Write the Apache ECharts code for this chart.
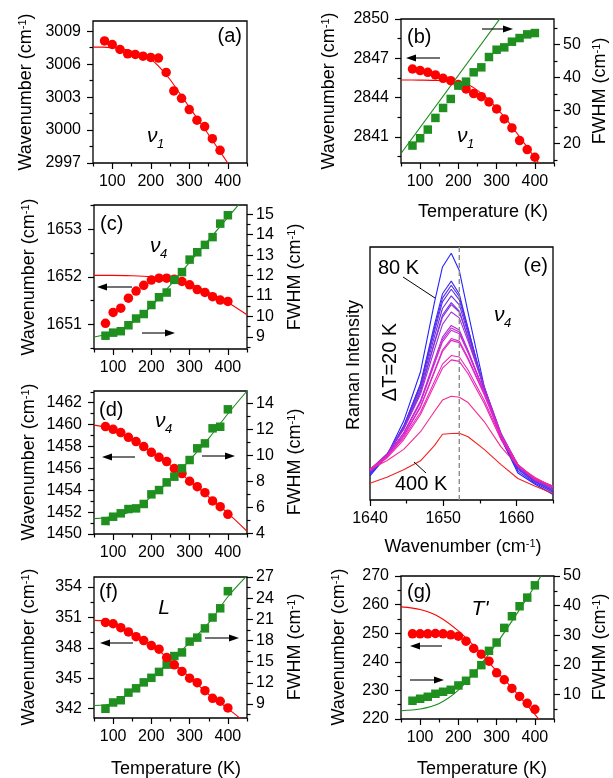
<!DOCTYPE html>
<html><head><meta charset="utf-8">
<script src="https://cdn.jsdelivr.net/npm/echarts@6/dist/echarts.min.js"></script>
<style>html,body{margin:0;padding:0;background:#fff}#c{width:613px;height:778px}</style>
</head><body><div id="c"></div>
<script>
// ---------------- data ----------------
const temps = [80,100,120,140,160,180,200,220,240,260,280,300,320,340,360,380,400];

// (a) nu1 ~3007
const aFreq = [3008.12,3007.79,3007.34,3006.94,3006.88,3006.73,3006.61,3006.55,3005.25,3003.56,3002.89,3001.87,3000.90,3000.32,2999.21,2998.15,2996.94];
const aFitT = [50,75,100,125,150,175,200,225,250,275,300,325,350,375,400,425];
const aFitF = [3007.55,3007.55,3007.5,3007.4,3007.2,3006.9,3006.45,3005.65,3004.6,3003.35,3002.1,3000.85,2999.6,2998.3,2997.0,2995.7];

// (b) nu1 ~2845
const bFreq = [2846.18,2846.06,2845.93,2845.73,2845.47,2845.29,2844.99,2844.66,2844.30,2844.07,2843.66,2843.13,2842.37,2841.68,2840.71,2840.03,2839.44];
const bFitT = [50,100,150,200,225,250,275,300,325,350,375,400,425];
const bFitF = [2845.34,2845.33,2845.3,2845.2,2845.0,2844.55,2843.95,2843.2,2842.35,2841.4,2840.4,2839.4,2838.4];
const bFwhm = [19.39,21.62,24.24,27.78,30.81,33.54,37.58,38.79,41.62,43.13,46.26,48.48,49.19,50.91,52.02,53.13,53.54];
const bFitWT = [50,320];
const bFitW = [16.97,59.7];

// (c) nu4 ~1652
const cFreq = [1651.02,1651.25,1651.34,1651.55,1651.70,1651.82,1651.93,1651.97,1651.97,1651.95,1651.90,1651.83,1651.73,1651.67,1651.58,1651.51,1651.48];
const cFitT = [50,100,150,200,250,300,350,400,450];
const cFitF = [1652.03,1652.03,1652.02,1652.0,1651.96,1651.85,1651.67,1651.46,1651.2];
const cFwhm = [9.06,9.21,9.28,9.57,9.90,10.12,10.56,10.94,11.17,11.79,12.17,12.78,13.14,13.50,13.88,14.54,14.95];
const cFitW = [9.0,9.2,9.7,10.5,11.55,12.65,13.75,14.85,15.95];

// (d) nu4 ~1456
const dFreq = [1459.82,1459.57,1459.27,1458.84,1458.45,1457.99,1457.47,1457.01,1456.62,1455.98,1455.52,1454.82,1454.33,1453.78,1453.02,1452.5,1451.80];
const dFitT = [50,100,150,200,250,300,350,400,450];
const dFitF = [1459.95,1459.6,1458.65,1457.5,1456.3,1454.85,1453.4,1451.9,1450.25];
const dFwhm = [4.95,5.28,5.54,5.87,5.92,6.26,7.0,7.33,7.92,8.36,9.0,9.64,10.54,10.92,12.08,12.2,13.54];
const dFitW = [5.13,5.3,5.72,6.82,8.12,9.64,11.3,13.2,14.95];

// (f) L ~347
const fFreq = [350.5,350.37,349.98,349.56,349.10,348.71,348.22,347.86,347.04,346.32,345.67,345.01,344.56,343.77,343.02,342.73,342.07];
const fFitT = [50,100,150,200,250,300,350,400,450];
const fFitF = [350.7,350.47,349.4,348.3,346.75,345.1,343.4,342.0,340.5];
const fFwhm = [8.31,9.20,9.52,10.6,11.21,12.05,12.70,13.54,14.57,15.79,16.30,17.84,18.40,19.71,21.25,22.56,24.99];
const fFitW = [8.78,9.1,10.85,12.7,15.1,17.7,20.48,24.2,27.2];

// (g) T' ~240
const gFreq = [249.77,249.77,249.77,249.9,249.77,249.42,248.95,247.2,244.65,242.67,240.23,236.16,233.72,230.7,227.9,225.47,223.37];
const gFitT = [50,100,150,200,250,300,350,400,425];
const gFitF = [259.19,258.26,255.7,250.8,244.3,236.7,229.4,221.6,217.5];
const gFwhm = [7.87,8.54,9.21,10.22,10.9,11.57,13.03,14.61,17.08,19.89,24.72,27.53,32.47,36.4,39.78,42.7,46.85];
const gFitW = [4.5,5.06,6.97,11.46,18.76,27.2,36.7,46.6,52.0];

// (e) spectra of nu4 mode, 80 K ... 400 K (arbitrary intensity 0..100)
const specX = [1640,1642.3,1644.6,1646.9,1648.8,1649.9,1651.1,1652.2,1653.4,1655.6,1657.9,1660.2,1662.5,1665];
const specT = [80,100,120,140,160,180,200,220,240,260,280,300,320,340,360,380,400];
const spec80  = [9.5,17.5,31.2,50.7,78.0,92.1,97.5,90.7,74.1,44.9,24.4,10.7,6.3,2.2];
const spec100 = [10.2,17.1,29.1,46.0,69.2,81.5,86.5,81.4,67.8,43.3,24.2,11.4,6.7,3.0];
const spec120 = [10.8,17.6,29.2,45.7,67.9,79.8,84.9,80.4,67.6,44.1,25.0,12.1,7.2,3.5];
const spec140 = [11.0,17.6,29.0,45.1,66.6,78.3,83.3,79.1,66.8,44.1,25.2,12.4,7.3,3.7];
const spec160 = [11.3,17.8,28.7,44.1,64.6,75.7,80.7,77.1,65.7,44.4,25.6,12.9,7.6,4.1];
const spec180 = [11.3,17.6,28.1,42.9,62.4,73.1,78.0,74.7,64.0,43.7,25.4,12.9,7.6,4.2];
const spec200 = [11.9,18.1,28.4,42.9,61.8,72.3,77.2,74.3,64.2,44.8,26.2,13.6,8.0,4.6];
const spec220 = [12.1,18.1,27.9,41.8,59.4,69.4,74.3,72.0,62.7,44.6,26.4,13.9,8.2,4.9];
const spec240 = [11.9,17.4,26.5,39.2,55.2,64.4,69.0,67.2,59.1,42.8,25.5,13.7,8.1,5.0];
const spec260 = [12.0,17.4,26.4,38.8,54.4,63.4,68.0,66.4,58.6,42.8,25.7,13.8,8.2,5.1];
const spec280 = [12.1,17.5,26.3,38.5,53.7,62.5,67.1,65.7,58.2,42.9,25.8,14.0,8.3,5.3];
const spec300 = [12.1,17.2,25.5,37.0,51.0,59.3,63.8,62.8,56.1,42.1,25.5,14.0,8.3,5.4];
const spec320 = [12.0,17.0,25.2,36.6,50.5,58.7,63.1,62.2,55.5,41.6,25.2,13.9,8.2,5.4];
const spec340 = [12.0,17.1,24.6,34.8,46.8,53.7,57.1,56.5,51.4,39.4,24.6,14.0,8.6,5.4];
const spec360 = [11.6,16.6,23.8,33.8,45.4,52.1,55.4,54.8,49.9,38.2,23.8,13.6,8.3,5.3];
const spec380 = [12.2,15.5,20.0,27.0,35.0,39.5,41.0,40.6,38.5,31.0,21.0,13.5,9.0,5.0];
const spec400 = [6.6,9.0,12.0,15.5,21.5,26.0,26.3,26.4,25.0,20.0,14.0,8.5,5.5,2.6];
const spectra = [spec80,spec100,spec120,spec140,spec160,spec180,spec200,spec220,spec240,spec260,spec280,spec300,spec320,spec340,spec360,spec380,spec400];
const specColors = ['#2424ff','#3a2cf5','#4b2ef0','#5a2eea','#6a2ee6','#7a30e0','#8a32dc','#9b30d8','#b02cd6','#c02ad4','#cc28d0','#d828cc','#e026c4','#e826bc','#ee24b0','#f52a8c','#f52020'];
const dashX = 1652.2;

// tick labels
const tempTicks = [100,200,300,400];
const tempMinor = [50,150,250,350,450];

// ---------------- builders ----------------
const FONT = 'Liberation Sans, Arial, sans-serif';
const RED = '#ff0000', GREEN = '#1f8f1f', GREENLINE = '#1a8a1a';
const grids = [], xAxes = [], yAxes = [], series = [], graphics = [];

function ax(gi, pos, a, major) {
  const isX = pos === 'bottom' || pos === 'top';
  return {
    type: 'value', gridIndex: gi, position: pos, min: a.min, max: a.max,
    axisLine: {show: false, onZero: false},
    axisTick: {show: true, inside: false, length: major ? 6 : 3.5,
      customValues: major ? a.major : a.minor, lineStyle: {color: '#000', width: 1.2}},
    axisLabel: {show: major && !a.noLabel, customValues: a.major, color: '#000',
      formatter: (v) => String(v),
      fontSize: 16, fontFamily: FONT, margin: isX ? 11 : (pos === 'left' ? 12 : 9)},
    splitLine: {show: false}, minorTick: {show: false}
  };
}
function panel(g, xa, yl, yr) {
  const gi = grids.length;
  grids.push({left: g[0], top: g[1], width: g[2], height: g[3], show: true,
    borderColor: '#000', borderWidth: 1.3, backgroundColor: 'rgba(0,0,0,0)'});
  const xi = xAxes.length;
  xAxes.push(ax(gi, 'bottom', xa, true), ax(gi, 'bottom', xa, false));
  const yli = yAxes.length;
  yAxes.push(ax(gi, 'left', yl, true), ax(gi, 'left', yl, false));
  let yri = null;
  if (yr) { yri = yAxes.length; yAxes.push(ax(gi, 'right', yr, true), ax(gi, 'right', yr, false)); }
  return {xi, yli, yri};
}
const pairs = (xs, ys) => xs.map((x, i) => [x, ys[i]]);
function fitLine(p, xs, ys, color, right) {
  series.push({type: 'line', xAxisIndex: p.xi, yAxisIndex: right ? p.yri : p.yli,
    data: pairs(xs, ys), smooth: 0.3, symbol: 'none', showSymbol: false, clip: true,
    lineStyle: {color, width: 1.1}, z: 2, silent: true});
}
function dots(p, ys, color, sym, right) {
  series.push({type: 'scatter', xAxisIndex: p.xi, yAxisIndex: right ? p.yri : p.yli,
    data: pairs(temps, ys), symbol: sym, symbolSize: sym === 'circle' ? 9.5 : 8.5, clip: true,
    itemStyle: {color, opacity: 1}, z: right ? 4 : 3, silent: true});
}
function tempAxis(noLabel) { return {min: 50, max: 450, major: tempTicks, minor: tempMinor, noLabel}; }
function txt(x, y, text, o) {
  o = o || {};
  graphics.push({type: 'text', x, y, rotation: o.rot || 0, z: 100, silent: true,
    style: {text, fill: '#000', font: (o.style || '') + ' ' + (o.size || 18) + 'px ' + FONT,
      textAlign: o.align || 'center', textVerticalAlign: o.valign || 'middle',
      rich: {sup: {fontSize: 11, fontFamily: FONT, verticalAlign: 'top', fill: '#000'}}}});
}
function arrow(x1, y1, x2, y2) { // tail -> tip (horizontal)
  const d = x2 > x1 ? 1 : -1, hl = 10, hw = 3.6;
  graphics.push({type: 'line', z: 100, silent: true, shape: {x1, y1, x2: x2 - d * hl, y2},
    style: {stroke: '#000', lineWidth: 1.1}});
  graphics.push({type: 'polygon', z: 100, silent: true,
    shape: {points: [[x2, y2], [x2 - d * hl, y2 - hw], [x2 - d * hl, y2 + hw]]}, style: {fill: '#000'}});
}
function nu(x, y, sub) {
  txt(x, y, 'ν', {style: 'italic', size: 21, align: 'left'});
  txt(x + 10, y + 8, sub, {style: 'italic', size: 13, align: 'left'});
}
const WN = 'Wavenumber (cm{sup|-1})';
const FW = 'FWHM (cm{sup|-1})';
const R90 = Math.PI / 2;

// ---------------- panels ----------------
// (a)
const pa = panel([93, 21, 154, 142], tempAxis(false),
  {min: 2997, max: 3009.93, major: [2997,3000,3003,3006,3009], minor: [2998.5,3001.5,3004.5,3007.5]});
fitLine(pa, aFitT, aFitF, RED);
dots(pa, aFreq, RED, 'circle');
txt(26, 92, WN, {rot: R90});
txt(242, 36, '(a)', {size: 20, align: 'right'});
nu(147, 136, '1');

// (b)
const pb = panel([401, 19, 153, 144], tempAxis(false),
  {min: 2839, max: 2850, major: [2841,2844,2847,2850], minor: [2839.5,2842.5,2845.5,2848.5]},
  {min: 14.1, max: 57.8, major: [20,30,40,50], minor: [15,25,35,45,55]});
fitLine(pb, bFitT, bFitF, RED);
fitLine(pb, bFitWT, bFitW, GREENLINE, true);
dots(pb, bFreq, RED, 'circle');
dots(pb, bFwhm, GREEN, 'rect', true);
txt(329, 91, WN, {rot: R90});
txt(600, 91, FW, {rot: R90});
txt(483, 212, 'Temperature (K)');
txt(407, 37, '(b)', {size: 20, align: 'left'});
nu(457, 136, '1');
arrow(440, 58, 406, 58);
arrow(482, 29, 513, 29);

// (c)
const pc = panel([94, 205, 153, 144], tempAxis(false),
  {min: 1650.48, max: 1653.51, major: [1651,1652,1653], minor: [1650.5,1651.5,1652.5,1653.5]},
  {min: 8.41, max: 15.45, major: [9,10,11,12,13,14,15], minor: [8.5,9.5,10.5,11.5,12.5,13.5,14.5]});
fitLine(pc, cFitT, cFitF, RED);
fitLine(pc, cFitT, cFitW, GREENLINE, true);
dots(pc, cFreq, RED, 'circle');
dots(pc, cFwhm, GREEN, 'rect', true);
txt(29, 277, WN, {rot: R90});
txt(295, 277, FW, {rot: R90});
txt(100, 224, '(c)', {size: 20, align: 'left'});
nu(150, 246, '4');
arrow(132, 287, 97, 287);
arrow(142, 333, 175, 333);

// (d)
const pd = panel([94, 391, 153, 143], tempAxis(false),
  {min: 1450, max: 1463.07, major: [1450,1452,1454,1456,1458,1460,1462], minor: [1451,1453,1455,1457,1459,1461,1463]},
  {min: 3.95, max: 14.95, major: [4,6,8,10,12,14], minor: [5,7,9,11,13]});
fitLine(pd, dFitT, dFitF, RED);
fitLine(pd, dFitT, dFitW, GREENLINE, true);
dots(pd, dFreq, RED, 'circle');
dots(pd, dFwhm, GREEN, 'rect', true);
txt(29, 462, WN, {rot: R90});
txt(295, 462, FW, {rot: R90});
txt(99, 410, '(d)', {size: 20, align: 'left'});
nu(155, 421, '4');
arrow(135, 457, 102, 457);
arrow(202, 456, 235, 456);

// (e) spectra
const pe = panel([370, 247, 183, 253],
  {min: 1640, max: 1665, major: [1640,1650,1660], minor: [1645,1655,1665]},
  {min: 0, max: 100, major: [], minor: [], noLabel: true});
spectra.forEach((s, i) => {
  series.push({type: 'line', name: specT[i] + ' K', xAxisIndex: pe.xi, yAxisIndex: pe.yli,
    data: pairs(specX, s), symbol: 'none', showSymbol: false, clip: true,
    lineStyle: {color: specColors[i], width: 1.1}, z: 2 + i * 0.01, silent: true});
});
series.push({type: 'line', xAxisIndex: pe.xi, yAxisIndex: pe.yli, data: [[dashX, 0], [dashX, 100]],
  symbol: 'none', lineStyle: {color: '#8c8c8c', width: 1.4, type: [5, 3]}, z: 5, silent: true});
txt(354, 365, 'Raman Intensity', {rot: R90});
txt(390, 362, 'ΔT=20 K', {rot: R90, size: 20});
txt(463, 547, WN);
txt(548, 266, '(e)', {size: 20, align: 'right'});
txt(378, 268, '80 K', {size: 20, align: 'left'});
txt(395, 484, '400 K', {size: 20, align: 'left'});
graphics.push({type: 'line', z: 100, silent: true, shape: {x1: 403, y1: 277, x2: 435, y2: 298}, style: {stroke: '#000', lineWidth: 1}});
graphics.push({type: 'line', z: 100, silent: true, shape: {x1: 414, y1: 462, x2: 426, y2: 473}, style: {stroke: '#000', lineWidth: 1}});
nu(494, 315, '4');

// (f)
const pf = panel([94, 577, 153, 141], tempAxis(false),
  {min: 341.08, max: 354.98, major: [342,345,348,351,354], minor: [343.5,346.5,349.5,352.5]},
  {min: 7, max: 27, major: [9,12,15,18,21,24,27], minor: [7.5,10.5,13.5,16.5,19.5,22.5,25.5]});
fitLine(pf, fFitT, fFitF, RED);
fitLine(pf, fFitT, fFitW, GREENLINE, true);
dots(pf, fFwhm, GREEN, 'rect', true);
dots(pf, fFreq, RED, 'circle');
series[series.length - 1].z = 5;
txt(29, 647, WN, {rot: R90});
txt(295, 647, FW, {rot: R90});
txt(176, 769, 'Temperature (K)');
txt(99, 592, '(f)', {size: 20, align: 'left'});
txt(164, 608, 'L', {size: 21, style: 'italic'});
arrow(133, 643, 100, 643);
arrow(205, 638, 239, 638);

// (g)
const pg = panel([401, 576, 153, 143], tempAxis(false),
  {min: 220, max: 270, major: [220,230,240,250,260,270], minor: [225,235,245,255,265]},
  {min: 1.7, max: 50, major: [10,20,30,40,50], minor: [5,15,25,35,45]});
fitLine(pg, gFitT, gFitF, RED);
fitLine(pg, gFitT, gFitW, GREENLINE, true);
dots(pg, gFreq, RED, 'circle');
dots(pg, gFwhm, GREEN, 'rect', true);
txt(339, 647, WN, {rot: R90});
txt(600, 647, FW, {rot: R90});
txt(482, 769, 'Temperature (K)');
txt(407, 592, '(g)', {size: 20, align: 'left'});
txt(480, 609, "T'", {size: 21, style: 'italic'});
arrow(442, 646, 410, 646);
arrow(410, 680, 444, 680);

const chart = echarts.init(document.getElementById('c'), null, {renderer: 'canvas'});
chart.setOption({
  animation: false, backgroundColor: '#fff',
  textStyle: {fontFamily: FONT},
  grid: grids, xAxis: xAxes, yAxis: yAxes, series, graphic: {elements: graphics}
});
</script></body></html>
